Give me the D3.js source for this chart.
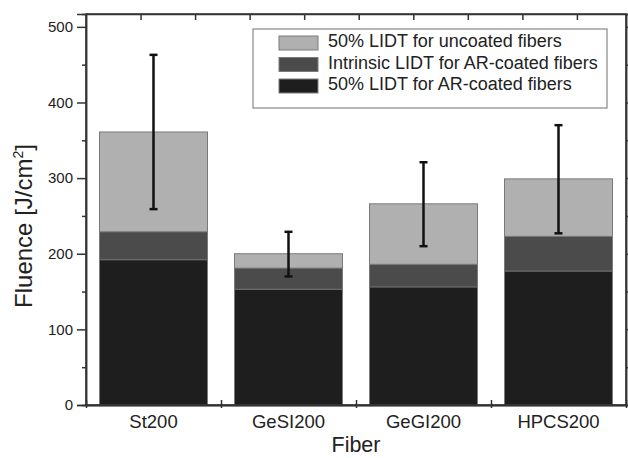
<!DOCTYPE html>
<html>
<head>
<meta charset="utf-8">
<script src="https://cdn.jsdelivr.net/npm/d3@7"></script>
<style>
    body { margin: 0; background: #fff; }
    svg { display: block; font-family: "Liberation Sans", Arial, sans-serif; }
</style>
</head>
<body>
<div id="chart"></div>
<script>
var fibers = ["St200", "GeSI200", "GeGI200", "HPCS200"];
var uncoated50 = [361, 200, 266, 299];
var intrinsicAR = [229, 181, 186, 223];
var ar50 = [192, 153, 156, 177];
var errLow = [259, 170, 210, 227];
var errHigh = [463, 229, 321, 370];
var seriesNames = [
    "50% LIDT for uncoated fibers",
    "Intrinsic LIDT for AR-coated fibers",
    "50% LIDT for AR-coated fibers",
];
var majorTicks = [0, 100, 200, 300, 400, 500];
var minorTicks = [50, 150, 250, 350, 450];

var cfg = {
    width: 628,
    height: 458,
    left: 86,
    right: 626,
    top: 14,
    bottom: 405,
    colors: ["#b0b0b0", "#4b4b4b", "#1e1e1e"],
};

var svg = d3.select("#chart").append("svg")
    .attr("width", cfg.width)
    .attr("height", cfg.height);

var x = d3.scaleBand()
    .domain(fibers)
    .range([cfg.left, cfg.right])
    .paddingInner(0.2)
    .paddingOuter(0.1);

var y = d3.scaleLinear()
    .domain([0, 517])
    .range([cfg.bottom, cfg.top]);

// bars: each layer drawn from zero, lighter ones behind
var layers = [uncoated50, intrinsicAR, ar50];
layers.forEach(function (vals, i) {
    svg.append("g")
        .selectAll("rect")
        .data(vals)
        .join("rect")
        .attr("x", (d, j) => x(fibers[j]))
        .attr("y", d => y(d))
        .attr("width", x.bandwidth())
        .attr("height", d => y(0) - y(d))
        .attr("fill", cfg.colors[i])
        .attr("stroke", "#7a7a7a")
        .attr("stroke-width", 1);
});

// error bars on the uncoated series
var err = svg.append("g").attr("stroke", "#111").attr("stroke-width", 2.5);
fibers.forEach(function (f, i) {
    var cx = x(f) + x.bandwidth() / 2;
    err.append("line")
        .attr("x1", cx).attr("x2", cx)
        .attr("y1", y(errLow[i])).attr("y2", y(errHigh[i]));
    [errLow[i], errHigh[i]].forEach(function (v) {
        err.append("line")
            .attr("x1", cx - 4).attr("x2", cx + 4)
            .attr("y1", y(v)).attr("y2", y(v));
    });
});

// frame
svg.append("rect")
    .attr("x", cfg.left)
    .attr("y", cfg.top)
    .attr("width", cfg.right - cfg.left)
    .attr("height", cfg.bottom - cfg.top)
    .attr("fill", "none")
    .attr("stroke", "#333")
    .attr("stroke-width", 1.5);

// left axis
var yAxis = svg.append("g")
    .attr("transform", `translate(${cfg.left},0)`)
    .call(d3.axisLeft(y).tickValues(majorTicks).tickSize(9).tickPadding(4));
svg.append("g")
    .attr("transform", `translate(${cfg.left},0)`)
    .call(d3.axisLeft(y).tickValues(minorTicks).tickSize(4).tickFormat(""));

// right axis
svg.append("g")
    .attr("transform", `translate(${cfg.right},0)`)
    .call(d3.axisRight(y).tickValues(majorTicks).tickSize(5).tickFormat(""));
svg.append("g")
    .attr("transform", `translate(${cfg.right},0)`)
    .call(d3.axisRight(y).tickValues(minorTicks).tickSize(3).tickFormat(""));

// bottom axis: ticks between categories crossing the line
var xb = d3.scaleLinear().domain([0, fibers.length]).range([cfg.left, cfg.right]);
svg.append("g")
    .attr("transform", `translate(0,${cfg.bottom})`)
    .call(d3.axisBottom(xb).ticks(4).tickSizeInner(-5).tickSizeOuter(0).tickFormat(""));
svg.append("g")
    .attr("transform", `translate(0,${cfg.bottom})`)
    .call(d3.axisBottom(xb).ticks(4).tickSizeInner(3).tickSizeOuter(0).tickFormat(""));
svg.append("g")
    .attr("transform", `translate(0,${cfg.bottom})`)
    .call(d3.axisBottom(x).tickSize(0).tickPadding(10))
    .selectAll("text")
    .attr("font-size", 18.5)
    .attr("fill", "#222");

// top axis, inward minor ticks
var xt = d3.scaleLinear().domain([0, 9.9]).range([cfg.left, cfg.right]);
svg.append("g")
    .attr("transform", `translate(0,${cfg.top})`)
    .call(d3.axisTop(xt).tickValues(d3.range(1, 10)).tickSizeInner(-6).tickSizeOuter(0).tickFormat(""));

svg.selectAll(".domain").attr("stroke", "#333").attr("stroke-width", 1.5);
svg.selectAll(".tick line").attr("stroke", "#333").attr("stroke-width", 1.5);
yAxis.selectAll("text").attr("font-size", 15).attr("fill", "#222");

// axis titles
svg.append("text")
    .attr("x", (cfg.left + cfg.right) / 2)
    .attr("y", 452)
    .attr("text-anchor", "middle")
    .attr("font-size", 21.5)
    .attr("fill", "#222")
    .text("Fiber");

var yt = svg.append("text")
    .attr("transform", "translate(32,226) rotate(-90)")
    .attr("text-anchor", "middle")
    .attr("font-size", 24)
    .attr("fill", "#222");
yt.append("tspan").text("Fluence [J/cm");
yt.append("tspan").attr("font-size", 14).attr("dy", -9).text("2");
yt.append("tspan").attr("dy", 9).text("]");

// legend
var legend = svg.append("g").attr("transform", "translate(253,29)");
legend.append("rect")
    .attr("width", 354)
    .attr("height", 79)
    .attr("fill", "#fff")
    .attr("stroke", "#888")
    .attr("stroke-width", 1.2);
seriesNames.forEach(function (name, i) {
    var row = legend.append("g").attr("transform", `translate(0,${18 + i * 21.5})`);
    row.append("rect")
        .attr("x", 26)
        .attr("y", -11)
        .attr("width", 39)
        .attr("height", 14)
        .attr("fill", cfg.colors[i])
        .attr("stroke", "#7a7a7a");
    row.append("text")
        .attr("x", 75)
        .attr("y", 0)
        .attr("font-size", 18)
        .attr("fill", "#222")
        .text(name);
});
</script>
</body>
</html>
